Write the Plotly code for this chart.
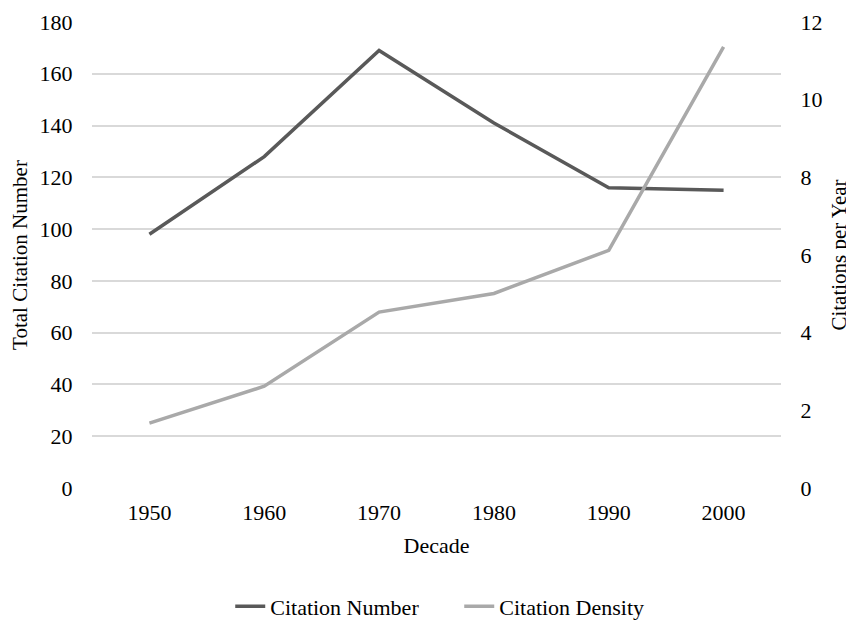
import plotly.graph_objects as go

decades = ["1950", "1960", "1970", "1980", "1990", "2000"]
citation_number = [98, 128, 169, 141, 116, 115]
citation_density = [1.67, 2.62, 4.53, 5.01, 6.12, 11.36]

FONT = "Liberation Serif"

fig = go.Figure()
fig.add_trace(go.Scatter(
    x=decades, y=citation_number, name="Citation Number", mode="lines",
    line=dict(color="#595959", width=3.5), yaxis="y"))
fig.add_trace(go.Scatter(
    x=decades, y=citation_density, name="Citation Density", mode="lines",
    line=dict(color="#a9a9a9", width=3.5), yaxis="y2"))

fig.update_layout(
    width=854, height=622,
    margin=dict(l=84, r=81, t=13.5, b=142, autoexpand=False),
    paper_bgcolor="white", plot_bgcolor="white",
    font=dict(family=FONT, size=22, color="black"),
    xaxis=dict(
        type="category", range=[-0.5, 5.5], automargin=False,
        showgrid=False, showline=False, zeroline=False,
        ticks="outside", ticklen=5, tickcolor="rgba(0,0,0,0)",
        title=dict(text="Decade", font=dict(size=22), standoff=13),
    ),
    yaxis=dict(
        range=[0, 180], dtick=20, showgrid=True, gridcolor="#d9d9d9", gridwidth=1.5,
        zeroline=False, showline=False, automargin=False,
        ticks="outside", ticklen=14, tickcolor="rgba(0,0,0,0)",
        title=dict(text="Total Citation Number", font=dict(size=21), standoff=8),
    ),
    yaxis2=dict(
        range=[0, 12], dtick=2, overlaying="y", side="right",
        showgrid=False, zeroline=False, showline=False, automargin=False,
        ticks="outside", ticklen=14, tickcolor="rgba(0,0,0,0)",
        title=dict(text="Citations per Year", font=dict(size=21), standoff=9),
    ),
    showlegend=True,
    legend=dict(
        orientation="h", x=0.533, xanchor="center", y=-0.254, yanchor="middle",
        font=dict(size=22), bgcolor="rgba(0,0,0,0)",
        entrywidth=184, entrywidthmode="pixels",
    ),
)

fig.write_html("out.html")
